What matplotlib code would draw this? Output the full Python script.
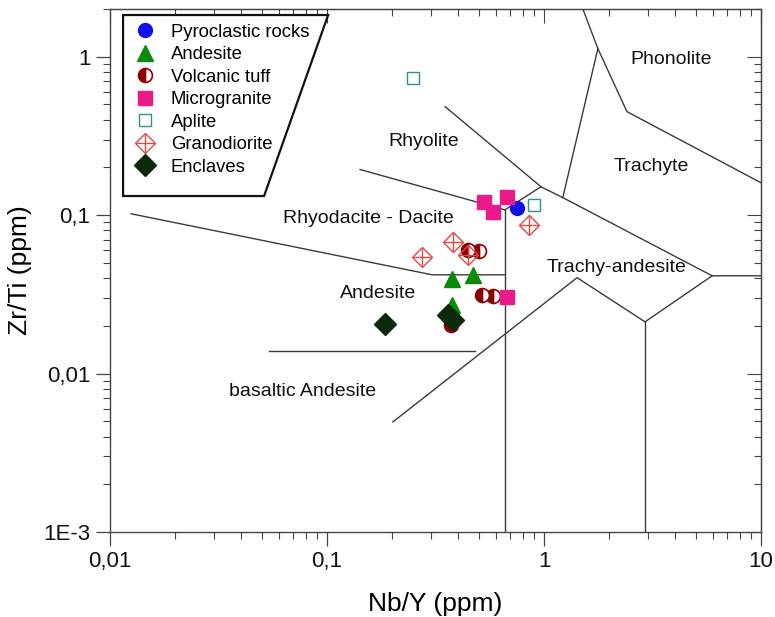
import matplotlib
matplotlib.use("Agg")
import matplotlib.pyplot as plt
from matplotlib.lines import Line2D
from matplotlib.patches import Polygon
from matplotlib.ticker import FixedLocator, LogLocator, NullFormatter, FuncFormatter
from matplotlib.legend_handler import HandlerTuple

# --- sample data (Nb/Y, Zr/Ti) ---
pyro_x = [0.751]
pyro_y = [0.111]

andesite_x = [0.377, 0.471, 0.377]
andesite_y = [0.0396, 0.042, 0.0272]

tuff_x = [0.447, 0.502, 0.518, 0.582, 0.373]
tuff_y = [0.0604, 0.0596, 0.0314, 0.031, 0.0203]

microgranite_x = [0.529, 0.582, 0.675, 0.675]
microgranite_y = [0.1215, 0.105, 0.1307, 0.0305]

aplite_x = [0.249, 0.90]
aplite_y = [0.738, 0.1163]

granodiorite_x = [0.853, 0.381, 0.274, 0.447]
granodiorite_y = [0.087, 0.0679, 0.0546, 0.0562]

enclave_x = [0.185, 0.361, 0.381]
enclave_y = [0.0206, 0.0235, 0.0218]

# --- field boundaries (Winchester & Floyd) ---
boundaries = [
    ([0.142, 0.66], [0.194, 0.108]),                      # rhyolite / rhyodacite
    ([0.66, 0.968], [0.108, 0.151]),
    ([0.350, 0.968], [0.484, 0.151]),                     # rhyolite right edge
    ([0.968, 1.22, 5.95, 10], [0.151, 0.129, 0.0414, 0.0414]),
    ([1.51, 1.77, 2.41, 10], [2.0, 1.125, 0.45, 0.16]),   # phonolite
    ([1.77, 1.22], [1.125, 0.129]),                       # trachyte left edge
    ([0.0125, 0.305, 0.66], [0.102, 0.042, 0.042]),       # andesite / dacite
    ([0.66, 0.66], [0.108, 0.001]),
    ([0.054, 0.481], [0.0139, 0.0139]),                   # basaltic andesite
    ([0.201, 1.42, 2.92, 5.95], [0.00495, 0.0403, 0.0212, 0.0414]),
    ([2.92, 2.92], [0.0212, 0.001]),
]

field_names = ["Phonolite", "Trachyte", "Rhyolite", "Rhyodacite - Dacite",
               "Trachy-andesite", "Andesite", "basaltic Andesite"]
field_x = [3.85, 3.11, 0.28, 0.155, 2.15, 0.172, 0.0768]
field_y = [0.96, 0.202, 0.291, 0.0948, 0.0466, 0.0318, 0.00766]

x_ticks = [0.01, 0.1, 1, 10]
x_tick_labels = ["0,01", "0,1", "1", "10"]
y_ticks = [0.001, 0.01, 0.1, 1]
y_tick_labels = ["1E-3", "0,01", "0,1", "1"]

plt.rcParams['font.family'] = ['Liberation Sans', 'DejaVu Sans']

fig = plt.figure(figsize=(7.75, 6.17), dpi=100)
ax = fig.add_axes([0.142, 0.1378, 0.840, 0.8476])
ax.set_xscale('log')
ax.set_yscale('log')
ax.set_xlim(0.01, 10)
ax.set_ylim(0.001, 2.0)

line_col = '#3a3a3a'
for bx, by in boundaries:
    ax.plot(bx, by, color=line_col, linewidth=1.0, zorder=2)

for name, fx, fy in zip(field_names, field_x, field_y):
    ax.text(fx, fy, name, ha='center', va='center', fontsize=14, color='#111111', zorder=3)

# --- samples ---
ms = 10
ax.plot(pyro_x, pyro_y, 'o', ms=ms, color='#1010e8', zorder=6)
ax.plot(andesite_x, andesite_y, '^', ms=11, color='#0a8a0a', zorder=6)
ax.plot(tuff_x, tuff_y, 'o', ms=ms, fillstyle='left', color='#8b0000',
        markerfacecoloralt='white', markeredgewidth=1.2, zorder=6)
ax.plot(microgranite_x, microgranite_y, 's', ms=ms, color='#ea1a8a', zorder=6)
ax.plot(aplite_x, aplite_y, 's', ms=9, mfc='none', mec='#2f8f8f', mew=1.0, zorder=6)
ax.plot(granodiorite_x, granodiorite_y, 'D', ms=10, mfc='none', mec='#e04848', mew=1.0, zorder=6)
ax.plot(granodiorite_x, granodiorite_y, '+', ms=13, mec='#e04848', mew=1.0, zorder=6)
ax.plot(enclave_x, enclave_y, 'D', ms=11, color='#0b2a0b', zorder=7)

# --- ticks ---
ax.xaxis.set_major_locator(FixedLocator(x_ticks))
ax.yaxis.set_major_locator(FixedLocator(y_ticks))
ax.xaxis.set_minor_locator(LogLocator(base=10, subs=range(2, 10)))
ax.yaxis.set_minor_locator(LogLocator(base=10, subs=range(2, 10)))
ax.xaxis.set_minor_formatter(NullFormatter())
ax.yaxis.set_minor_formatter(NullFormatter())
ax.xaxis.set_major_formatter(FuncFormatter(lambda v, p: x_tick_labels[x_ticks.index(v)] if v in x_ticks else ""))
ax.yaxis.set_major_formatter(FuncFormatter(lambda v, p: y_tick_labels[y_ticks.index(v)] if v in y_ticks else ""))
ax.tick_params(which='major', direction='out', length=10, width=0.9, labelsize=16,
               color='#444444', labelcolor='#111111', pad=4)
ax.tick_params(which='minor', direction='out', length=5, width=0.8, color='#444444')
for s in ax.spines.values():
    s.set_color('#444444')
    s.set_linewidth(1.0)

top = ax.secondary_xaxis('top')
top.xaxis.set_major_locator(FixedLocator(x_ticks))
top.xaxis.set_minor_locator(LogLocator(base=10, subs=range(2, 10)))
top.tick_params(which='both', direction='in', labeltop=False, color='#444444', width=0.8)
top.tick_params(which='major', length=10)
top.tick_params(which='minor', length=5)
top.spines['top'].set_color('#444444')

right = ax.secondary_yaxis('right')
right.yaxis.set_major_locator(FixedLocator(y_ticks))
right.yaxis.set_minor_locator(LogLocator(base=10, subs=range(2, 10)))
right.tick_params(which='both', direction='in', labelright=False, color='#444444', width=0.8)
right.tick_params(which='major', length=10)
right.tick_params(which='minor', length=5)
right.spines['right'].set_color('#444444')

ax.set_xlabel("Nb/Y (ppm)", fontsize=19, labelpad=14)
ax.set_ylabel("Zr/Ti (ppm)", fontsize=19, labelpad=8)

# --- legend inside a slanted box ---
box = Polygon([(0.020, 0.9885), (0.335, 0.9885), (0.2366, 0.6424), (0.020, 0.6424)],
              closed=True, transform=ax.transAxes, facecolor='white',
              edgecolor='#111111', linewidth=1.6, zorder=8)
ax.add_patch(box)

handles = [
    Line2D([], [], ls='none', marker='o', ms=ms, color='#1010e8'),
    Line2D([], [], ls='none', marker='^', ms=11, color='#0a8a0a'),
    Line2D([], [], ls='none', marker='o', ms=ms, fillstyle='left', color='#8b0000',
           markerfacecoloralt='white', markeredgewidth=1.2),
    Line2D([], [], ls='none', marker='s', ms=ms, color='#ea1a8a'),
    Line2D([], [], ls='none', marker='s', ms=9, mfc='none', mec='#2f8f8f'),
    (Line2D([], [], ls='none', marker='D', ms=10, mfc='none', mec='#e04848'),
     Line2D([], [], ls='none', marker='+', ms=13, mec='#e04848')),
    Line2D([], [], ls='none', marker='D', ms=11, color='#0b2a0b'),
]
labels = ["Pyroclastic rocks", "Andesite", "Volcanic tuff", "Microgranite",
          "Aplite", "Granodiorite", "Enclaves"]
leg = ax.legend(handles, labels, loc='upper left', bbox_to_anchor=(0.0396, 0.972),
                frameon=False, fontsize=13.3, labelspacing=0.3, handlelength=1.0,
                handletextpad=0.9, borderpad=0, borderaxespad=0,
                handler_map={tuple: HandlerTuple(ndivide=1)})
leg.set_zorder(9)

fig.savefig("out.png", dpi=100)
